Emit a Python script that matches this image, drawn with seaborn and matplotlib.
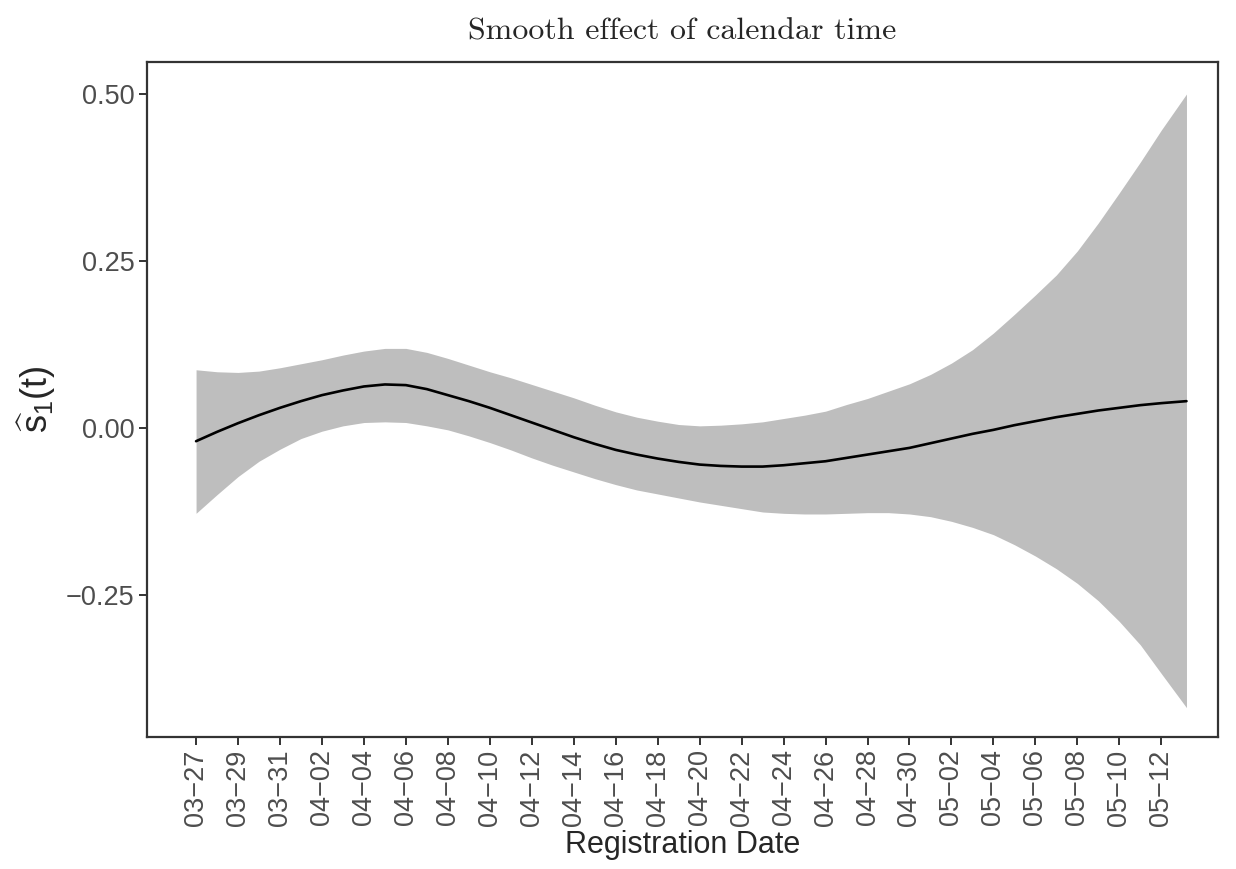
# smooth effect of calendar time, estimate with confidence band

import pandas as pd
import seaborn as sns
import matplotlib.pyplot as plt

# days since 03-27
days = list(range(0, 47)) + [47.2]
estimate = [-0.020, -0.006, 0.007, 0.019, 0.030, 0.040, 0.049, 0.056, 0.062,
            0.065, 0.064, 0.058, 0.049, 0.040, 0.030, 0.019, 0.008, -0.003,
            -0.014, -0.024, -0.033, -0.040, -0.046, -0.051, -0.055, -0.057,
            -0.058, -0.058, -0.056, -0.053, -0.050, -0.045, -0.040, -0.035,
            -0.030, -0.023, -0.016, -0.009, -0.003, 0.004, 0.010, 0.016,
            0.021, 0.026, 0.030, 0.034, 0.037, 0.040]
upper = [0.087, 0.084, 0.083, 0.085, 0.090, 0.096, 0.102, 0.109, 0.115,
         0.119, 0.119, 0.113, 0.104, 0.094, 0.084, 0.075, 0.065, 0.055,
         0.045, 0.034, 0.024, 0.016, 0.010, 0.005, 0.003, 0.004, 0.006,
         0.009, 0.014, 0.019, 0.025, 0.035, 0.044, 0.055, 0.066, 0.080,
         0.097, 0.117, 0.142, 0.170, 0.199, 0.229, 0.265, 0.307, 0.352,
         0.398, 0.446, 0.500]
lower = [-0.128, -0.100, -0.073, -0.050, -0.032, -0.016, -0.005, 0.003,
         0.008, 0.009, 0.008, 0.003, -0.003, -0.012, -0.022, -0.033, -0.045,
         -0.056, -0.066, -0.076, -0.085, -0.093, -0.099, -0.105, -0.111,
         -0.116, -0.121, -0.126, -0.128, -0.129, -0.129, -0.128, -0.127,
         -0.127, -0.129, -0.133, -0.140, -0.149, -0.160, -0.175, -0.192,
         -0.211, -0.233, -0.259, -0.290, -0.325, -0.368, -0.419]

tick_labels = ['03-27', '03-29', '03-31', '04-02', '04-04', '04-06', '04-08',
               '04-10', '04-12', '04-14', '04-16', '04-18', '04-20', '04-22',
               '04-24', '04-26', '04-28', '04-30', '05-02', '05-04', '05-06',
               '05-08', '05-10', '05-12']
tick_days = list(range(0, 47, 2))

df = pd.DataFrame({'day': days, 'est': estimate, 'lo': lower, 'hi': upper})

sns.set_style('white')
plt.rcParams['font.family'] = ['Liberation Sans', 'DejaVu Sans']
plt.rcParams['mathtext.fontset'] = 'custom'
plt.rcParams['mathtext.rm'] = 'Liberation Sans'
plt.rcParams['mathtext.it'] = 'Liberation Sans'

fig = plt.figure(figsize=(12.36, 8.69), dpi=100)
ax = fig.add_axes([0.1189, 0.1519, 0.8665, 0.7768])

ax.fill_between(df['day'], df['lo'], df['hi'], color='#BEBEBE', linewidth=0)
sns.lineplot(data=df, x='day', y='est', color='black', linewidth=1.9, ax=ax)

ax.set_xlim(-2.34, 48.7)
ax.set_ylim(-0.463, 0.548)
ax.set_xticks(tick_days)
# R draws the hyphen as a minus sign
ax.set_xticklabels([t.replace('-', '\u2212') for t in tick_labels], rotation=90)
ax.set_yticks([-0.25, 0.0, 0.25, 0.5])
ax.set_yticklabels(['\u22120.25', '0.00', '0.25', '0.50'])

ax.tick_params(axis='both', length=6, width=1.4, color='#333333',
               labelsize=19.5, labelcolor='#4D4D4D', pad=3, direction='out',
               bottom=True, left=True)
for s in ax.spines.values():
    s.set_color('#333333')
    s.set_linewidth(1.6)

ax.set_xlabel('Registration Date', fontsize=22, labelpad=3)
ax.set_ylabel(r'$\widehat{\mathrm{s}}_1\mathrm{(t)}$', fontsize=26, labelpad=6)
ax.set_title('Smooth effect of calendar time', fontsize=23,
             family='cmr10', pad=16)

plt.savefig('out.png', dpi=100)
